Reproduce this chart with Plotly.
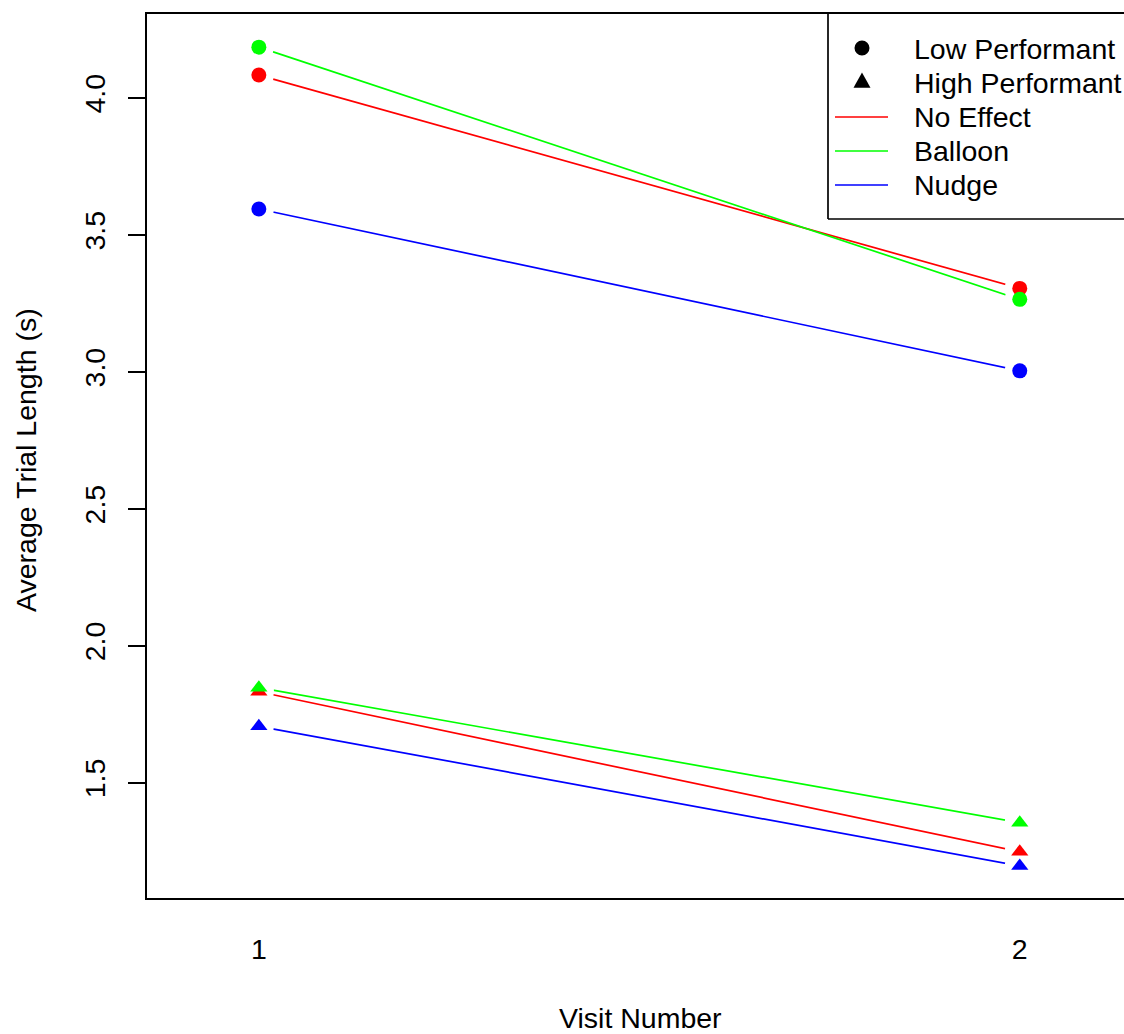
import plotly.graph_objects as go

# ---- data ----
visits = [1, 2]
condition_names = ["No Effect", "Balloon", "Nudge"]
condition_colors = ["#FF0000", "#00FF00", "#0000FF"]

low_no_effect = [4.084, 3.305]
low_balloon = [4.186, 3.265]
low_nudge = [3.595, 3.004]

high_no_effect = [1.832, 1.248]
high_balloon = [1.847, 1.354]
high_nudge = [1.706, 1.196]

low_series = [low_no_effect, low_balloon, low_nudge]
high_series = [high_no_effect, high_balloon, high_nudge]

y_ticks = [1.5, 2.0, 2.5, 3.0, 3.5, 4.0]
y_tick_labels = ["1.5", "2.0", "2.5", "3.0", "3.5", "4.0"]
x_ticks = [1, 2]
x_tick_labels = ["1", "2"]

legend_labels = ["Low Performant", "High Performant", "No Effect", "Balloon", "Nudge"]

# ---- layout geometry (pixels) ----
W, H = 1124, 1034
PL, PR, PT, PB = 147, 1124, 14, 898
FONT = "Liberation Sans, Arial, Helvetica, sans-serif"
FS = 28.5


def px(x):
    return (x - PL) / (PR - PL)


def py(y):
    return (PB - y) / (PB - PT)


fig = go.Figure()

# lines first
for vals_list in (low_series, high_series):
    for vals, col in zip(vals_list, condition_colors):
        fig.add_trace(go.Scatter(x=visits, y=vals, mode="lines",
                                 line=dict(color=col, width=1.7),
                                 showlegend=False, hoverinfo="skip"))

# white halos to create the type="b" gaps
for vals_list in (low_series, high_series):
    for vals in vals_list:
        fig.add_trace(go.Scatter(x=visits, y=vals, mode="markers",
                                 marker=dict(symbol="circle", size=30, color="white",
                                             line=dict(width=0)),
                                 showlegend=False, hoverinfo="skip"))

# markers
for vals, col in zip(low_series, condition_colors):
    fig.add_trace(go.Scatter(x=visits, y=vals, mode="markers",
                             marker=dict(symbol="circle", size=15, color=col,
                                         line=dict(width=0)),
                             showlegend=False))
for vals, col in zip(high_series, condition_colors):
    fig.add_trace(go.Scatter(x=visits, y=vals, mode="markers",
                             marker=dict(symbol="triangle-up", size=15, color=col,
                                         line=dict(width=0)),
                             showlegend=False))

shapes = []
# legend box (left and bottom edges; the right edge is off-canvas)
shapes.append(dict(type="line", xref="paper", yref="paper",
                   x0=px(828), x1=px(828), y0=py(14), y1=py(219),
                   line=dict(color="black", width=1.7)))
shapes.append(dict(type="line", xref="paper", yref="paper",
                   x0=px(828), x1=px(1132), y0=py(219), y1=py(219),
                   line=dict(color="black", width=1.7)))
# legend symbols
shapes.append(dict(type="circle", xref="paper", yref="paper",
                   x0=px(854.5), x1=px(869.5), y0=py(40.5), y1=py(55.5),
                   fillcolor="black", line=dict(width=0)))
shapes.append(dict(type="path", xref="paper", yref="paper",
                   path="M {:.5f},{:.5f} L {:.5f},{:.5f} L {:.5f},{:.5f} Z".format(
                       px(853.5), py(87.8), px(870.5), py(87.8), px(862), py(72.5)),
                   fillcolor="black", line=dict(width=0)))
legend_line_y = [117, 151, 185]
for ly, col in zip(legend_line_y, condition_colors):
    shapes.append(dict(type="line", xref="paper", yref="paper",
                       x0=px(835), x1=px(888), y0=py(ly), y1=py(ly),
                       line=dict(color=col, width=1.7)))

annotations = []
legend_text_y = [49, 83, 117, 151, 185]
for lab, ty in zip(legend_labels, legend_text_y):
    annotations.append(dict(text=lab, xref="paper", yref="paper",
                            x=px(912), y=py(ty), xanchor="left", yanchor="middle",
                            showarrow=False, font=dict(family=FONT, size=FS, color="black")))
# axis titles
annotations.append(dict(text="Visit Number", xref="paper", yref="paper",
                        x=px(640), y=py(1018), xanchor="center", yanchor="middle",
                        showarrow=False, font=dict(family=FONT, size=FS, color="black")))
annotations.append(dict(text="Average Trial Length (s)", xref="paper", yref="paper",
                        x=px(26), y=py(460), xanchor="center", yanchor="middle",
                        textangle=-90, showarrow=False,
                        font=dict(family=FONT, size=FS, color="black")))

fig.update_layout(
    width=W, height=H,
    margin=dict(l=PL, r=W - PR, t=PT, b=H - PB, pad=0),
    paper_bgcolor="white", plot_bgcolor="white",
    showlegend=False,
    shapes=shapes, annotations=annotations,
    font=dict(family=FONT, size=FS, color="black"),
)
fig.update_xaxes(range=[0.853, 2.137], tickvals=x_ticks, ticktext=x_tick_labels,
                 ticks="", showgrid=False, zeroline=False,
                 showline=True, linecolor="black", linewidth=2, mirror=True,
                 ticklabelstandoff=25,
                 tickfont=dict(family=FONT, size=FS, color="black"))
fig.update_yaxes(range=[1.079, 4.307], tickvals=y_ticks, ticktext=y_tick_labels,
                 ticks="outside", ticklen=17, tickwidth=2, tickcolor="black",
                 tickangle=-90, ticklabelstandoff=12,
                 showgrid=False, zeroline=False,
                 showline=True, linecolor="black", linewidth=2, mirror=False,
                 tickfont=dict(family=FONT, size=FS, color="black"))

page_fix = ("document.documentElement.style.margin='0';"
            "document.documentElement.style.overflow='hidden';"
            "document.body.style.margin='0';"
            "document.body.style.overflow='hidden';")

fig.write_html("out.html", post_script=page_fix,
               config={"displayModeBar": False, "staticPlot": True})
